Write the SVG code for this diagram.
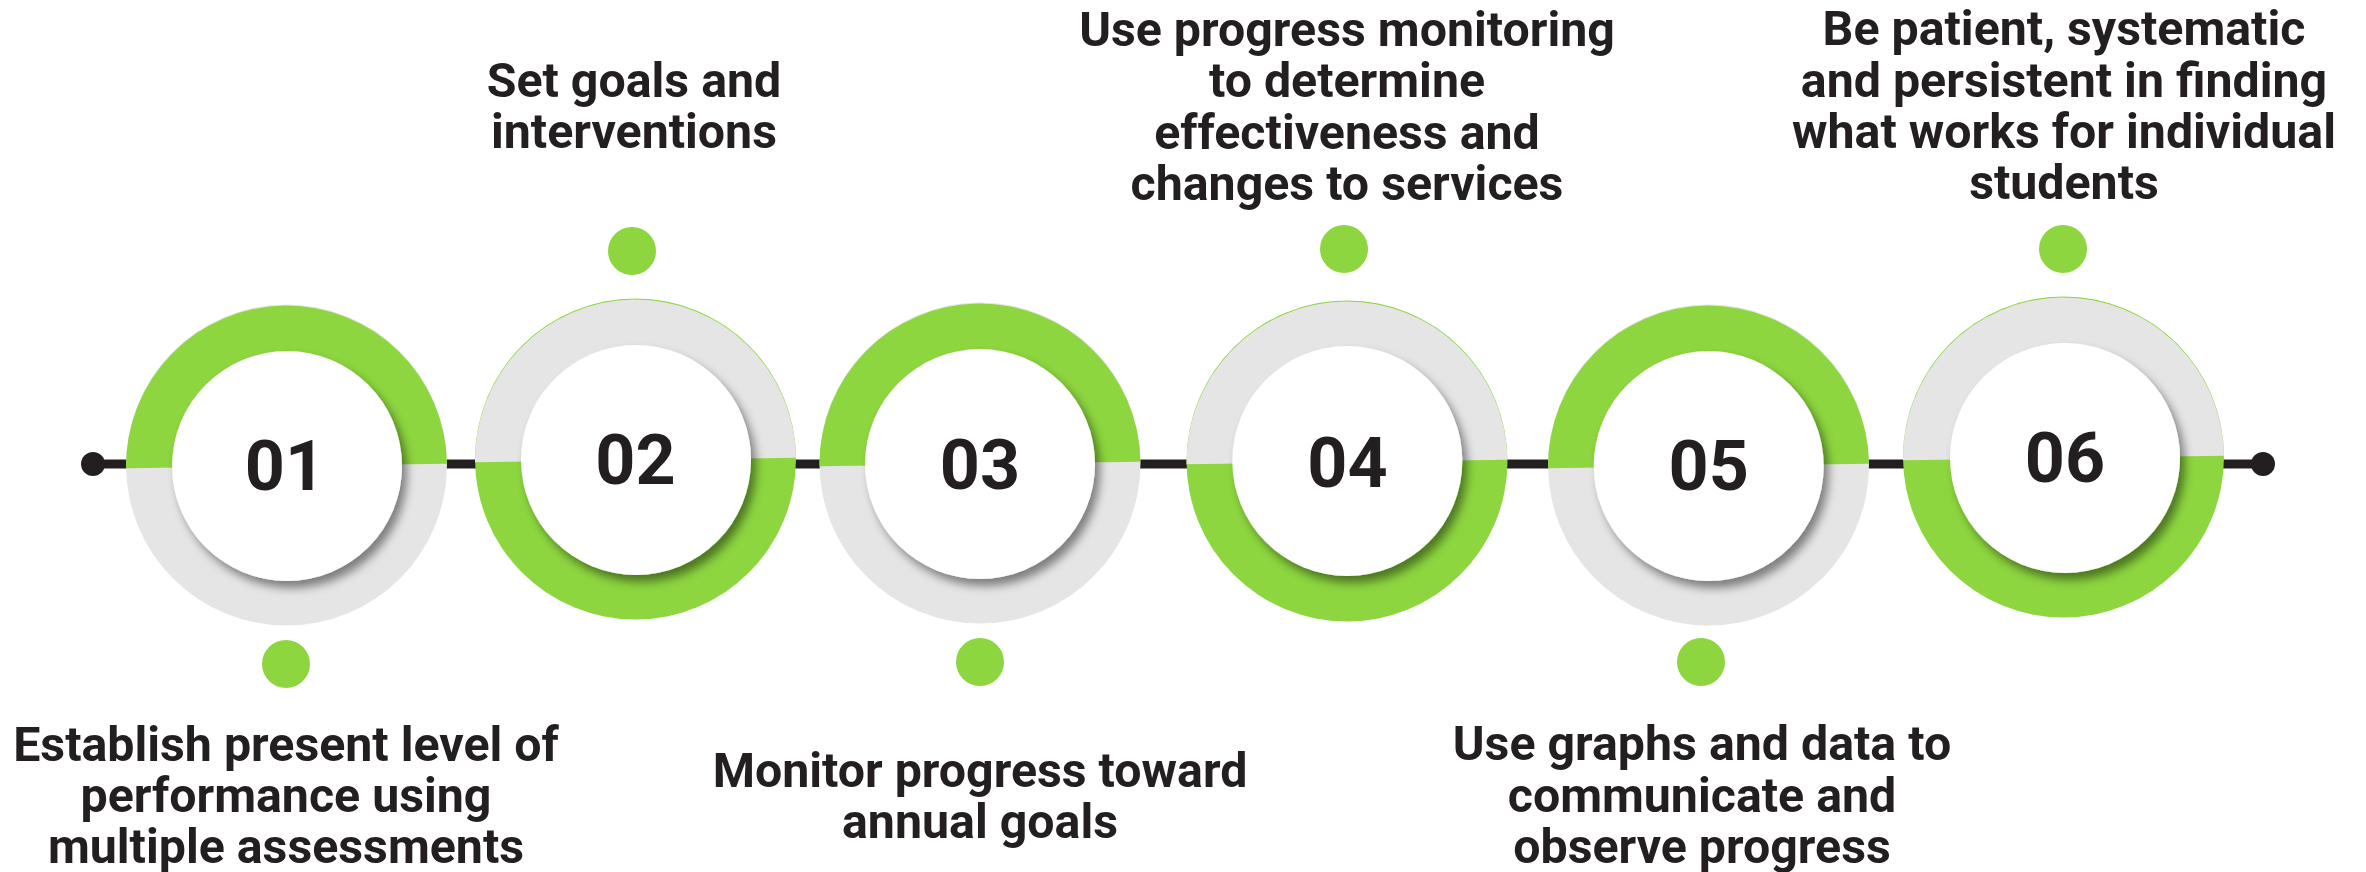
<svg xmlns="http://www.w3.org/2000/svg" xmlns:xlink="http://www.w3.org/1999/xlink" width="2366" height="872" viewBox="0 0 2366 872">
  <style>
    .green { fill: #8DD63F; }
    .gray { fill: #E5E5E5; }
    .inner { fill: #FFFFFF; filter: url(#shadow); }
    .num { font-family: Roboto, "Liberation Sans", sans-serif; font-weight: 700; font-size: 70px; fill: #231F20; text-anchor: middle; }
    .label { font-family: Roboto, "Liberation Sans", sans-serif; font-weight: 700; font-size: 48.3px; fill: #231F20; text-anchor: middle; }
    .dot { fill: #8DD63F; }
    .line { stroke: #231F20; stroke-width: 9; fill: none; }
    .end { fill: #231F20; }
  </style>
  <defs>
    <filter id="shadow" x="-30%" y="-30%" width="160%" height="160%">
      <feDropShadow dx="5" dy="7" stdDeviation="5" flood-color="#000000" flood-opacity="0.45"/>
    </filter>
    <path id="half" d="M-160.5,0 A160.5,160.5 0 0 1 160.5,0 Z"/>
  </defs>
  <rect width="2366" height="872" fill="#FFFFFF"/>

  <g id="connectors">
    <line class="line" x1="93" y1="464" x2="2263" y2="464"/>
    <circle class="end" cx="93" cy="464" r="12"/>
    <circle class="end" cx="2263" cy="464" r="12"/>
  </g>

  <g id="step01">
    <circle class="gray" cx="286.5" cy="465" r="160.5"/>
    <use xlink:href="#half" class="green" transform="translate(286.5,466) rotate(-0.8)"/>
    <circle class="inner" cx="287" cy="466" r="115"/>
    <text class="num" x="285" y="490">01</text>
    <circle class="dot" cx="286" cy="664" r="24"/>
    <text class="label"><tspan x="286" y="761">Establish present level of</tspan><tspan x="286" y="812">performance using</tspan><tspan x="286" y="863">multiple assessments</tspan></text>
  </g>

  <g id="step02">
    <circle class="green" cx="635.5" cy="459" r="160.5"/>
    <use xlink:href="#half" class="gray" transform="translate(635.5,460) rotate(-0.8)"/>
    <circle class="inner" cx="636" cy="460" r="115"/>
    <text class="num" x="635.5" y="484">02</text>
    <circle class="dot" cx="632" cy="251" r="24"/>
    <text class="label"><tspan x="634" y="97">Set goals and</tspan><tspan x="634" y="148">interventions</tspan></text>
  </g>

  <g id="step03">
    <circle class="gray" cx="980" cy="463" r="160.5"/>
    <use xlink:href="#half" class="green" transform="translate(980,464) rotate(-0.8)"/>
    <circle class="inner" cx="980" cy="464" r="115"/>
    <text class="num" x="980" y="489">03</text>
    <circle class="dot" cx="980" cy="662" r="24"/>
    <text class="label"><tspan x="980" y="787">Monitor progress toward</tspan><tspan x="980" y="838">annual goals</tspan></text>
  </g>

  <g id="step04">
    <circle class="green" cx="1347" cy="461" r="160.5"/>
    <use xlink:href="#half" class="gray" transform="translate(1347,462) rotate(-0.8)"/>
    <circle class="inner" cx="1347.3" cy="461" r="115"/>
    <text class="num" x="1347.5" y="487">04</text>
    <circle class="dot" cx="1344" cy="249" r="24"/>
    <text class="label"><tspan x="1347" y="46">Use progress monitoring</tspan><tspan x="1347" y="97">to determine</tspan><tspan x="1347" y="149">effectiveness and</tspan><tspan x="1347" y="200">changes to services</tspan></text>
  </g>

  <g id="step05">
    <circle class="gray" cx="1708.5" cy="465" r="160.5"/>
    <use xlink:href="#half" class="green" transform="translate(1708.5,466) rotate(-0.8)"/>
    <circle class="inner" cx="1708.7" cy="466" r="115"/>
    <text class="num" x="1708.7" y="490">05</text>
    <circle class="dot" cx="1701" cy="662" r="24"/>
    <text class="label"><tspan x="1702" y="760">Use graphs and data to</tspan><tspan x="1702" y="812">communicate and</tspan><tspan x="1702" y="863">observe progress</tspan></text>
  </g>

  <g id="step06">
    <circle class="green" cx="2063.5" cy="457" r="160.5"/>
    <use xlink:href="#half" class="gray" transform="translate(2063.5,458) rotate(-0.8)"/>
    <circle class="inner" cx="2065" cy="458" r="115"/>
    <text class="num" x="2065" y="482">06</text>
    <circle class="dot" cx="2063" cy="249" r="24"/>
    <text class="label"><tspan x="2064" y="45">Be patient, systematic</tspan><tspan x="2064" y="97">and persistent in finding</tspan><tspan x="2064" y="148">what works for individual</tspan><tspan x="2064" y="199">students</tspan></text>
  </g>
</svg>
